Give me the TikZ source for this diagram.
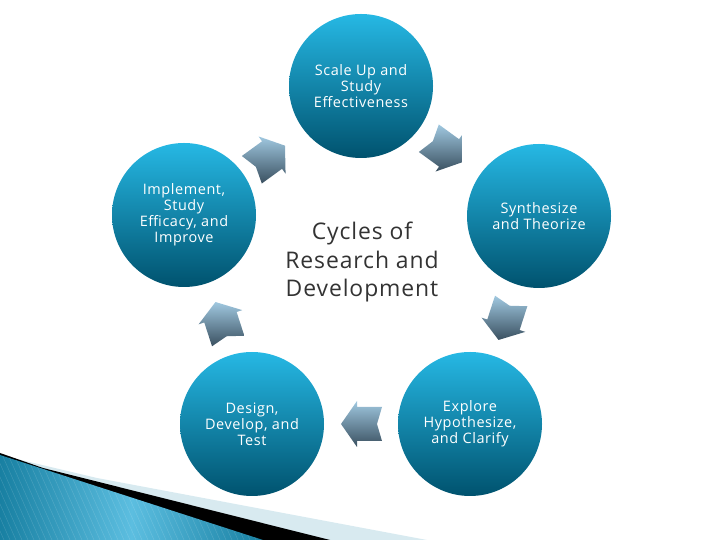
\documentclass[tikz,border=0pt]{standalone}
\usepackage{fontspec}
\setmainfont{Open Sans}
\newfontfamily\stagefont[LetterSpace=4]{Open Sans}
\usepackage{xcolor}
\usepackage{tikz}
\usetikzlibrary{positioning, shapes, calc}

\definecolor{stagetop}{RGB}{38,184,228}
\definecolor{stagebot}{RGB}{0,82,110}
\definecolor{arrtop}{RGB}{160,200,224}
\definecolor{arrbot}{RGB}{58,80,96}
\definecolor{wedgedark}{RGB}{24,128,162}
\definecolor{wedgelight}{RGB}{92,190,224}
\definecolor{bandlight}{RGB}{216,234,240}

\begin{document}
\begin{tikzpicture}[x=1bp, y=1bp,
    stage/.style={circle, minimum size=144bp, inner sep=0pt, top color=stagetop, bottom color=stagebot, text=white, align=center, font=\stagefont\fontsize{14.5}{16}\selectfont},
    flowarrow/.pic={
      \shade[top color=arrtop, bottom color=arrbot, rotate=#1]
        (21,0) -- (5,23) -- (5,17) -- (-20,17) -- (-15,0) -- (-20,-17) -- (5,-17) -- (5,-23) -- cycle;
    }]
      \useasboundingbox (0,0) rectangle (720,540);

      % Corner decoration
      \fill[bandlight] (0,85) -- (97,62) -- (427,0) -- (0,0) -- cycle;
      \fill[black] (0,87) -- (43,72) -- (330,0) -- (0,0) -- cycle;
      \begin{scope}
        \clip (0,85) -- (263,0) -- (0,0) -- cycle;
        \shade[left color=wedgedark, right color=wedgedark, middle color=wedgelight] (0,0) rectangle (263,85);
        \foreach \i in {-120,-114,...,270}
          \draw[white, opacity=0.12, line width=0.6bp] (\i,90) -- ++(40,-90);
      \end{scope}

      % Stages of the cycle
      \node[stage] (scale) at (361,454) {Scale Up and\\Study\\Effectiveness};
      \node[stage] (synth) at (539,324) {Synthesize\\and Theorize};
      \node[stage] (explore) at (470,116) {Explore\\Hypothesize,\\and Clarify};
      \node[stage] (design) at (252,116) {Design,\\Develop, and\\Test};
      \node[stage] (implement) at (184,325) {Implement,\\Study\\Efficacy, and\\Improve};

      \node[align=center, text=black!80, font=\stagefont\fontsize{23}{29}\selectfont] (cycle) at (362,278) {Cycles of\\Research and\\Development};

      % Arrows between stages
      \pic at (445,390) {flowarrow=-36};
      \pic at (505,220) {flowarrow=-108};
      \pic at (362,116) {flowarrow=180};
      \pic at (222,218) {flowarrow=108};
      \pic at (268,382) {flowarrow=36};
\end{tikzpicture}
\end{document}
